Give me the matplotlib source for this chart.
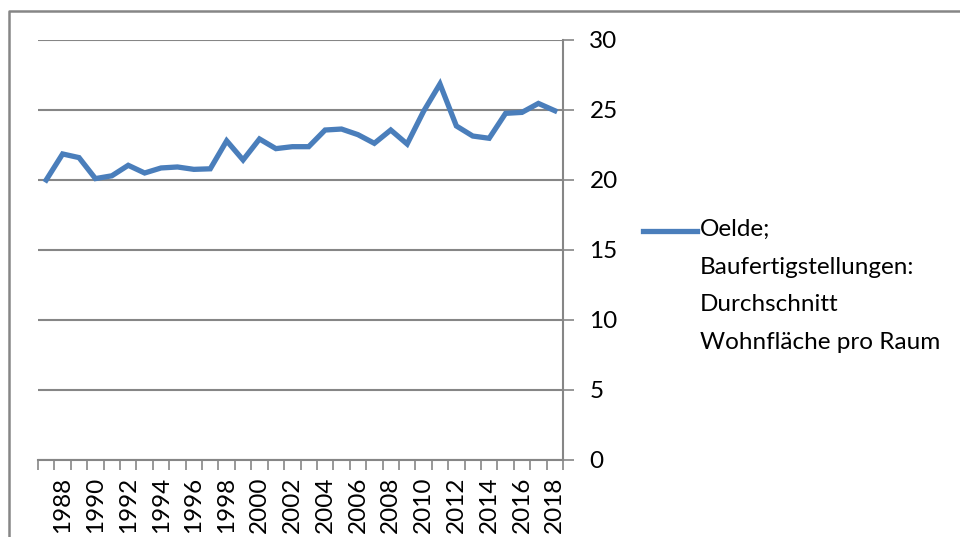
import matplotlib
matplotlib.use("Agg")
import matplotlib.pyplot as plt
from matplotlib.lines import Line2D

# Oelde; Baufertigstellungen: Durchschnitt Wohnfläche pro Raum
years = list(range(1987, 2019))
values = [20.0, 21.86, 21.6, 20.1, 20.3, 21.05, 20.5, 20.86, 20.93, 20.76,
          20.8, 22.8, 21.43, 22.93, 22.24, 22.38, 22.38, 23.57, 23.64, 23.24,
          22.62, 23.57, 22.57, 24.9, 26.86, 23.86, 23.14, 22.98, 24.76, 24.83,
          25.47, 24.95]
y_ticks = [0, 5, 10, 15, 20, 25, 30]
legend_label = "Oelde;\nBaufertigstellungen:\nDurchschnitt\nWohnfläche pro Raum"

blue = "#4A7EBB"
gray = "#868686"
W, H = 960, 537
fs = 17.5

plt.rcParams['font.family'] = ['Lato', 'DejaVu Sans']

fig = plt.figure(figsize=(9.6, 5.37), dpi=100)
ax = fig.add_axes([38 / W, 1 - 460 / H, (563 - 38) / W, (460 - 40) / H])

x = list(range(len(years)))
ax.plot(x, values, color=blue, linewidth=3.8, solid_joinstyle="miter")

ax.set_xlim(-0.5, len(years) - 0.5)
ax.set_ylim(0, 30)

# y axis on the right
ax.yaxis.tick_right()
ax.set_yticks(y_ticks)
ax.tick_params(axis="y", length=8, width=1.2, color=gray, pad=11,
               labelsize=fs, labelcolor="black")
for lbl in ax.get_yticklabels():
    lbl.set_horizontalalignment("left")
ax.grid(axis="y", color=gray, linewidth=1.5)
ax.set_axisbelow(True)

# category axis: labels every second year, ticks between categories
ax.set_xticks(x[1::2])
ax.set_xticklabels([str(y) for y in years[1::2]], rotation=90, fontsize=fs)
ax.set_xticks([i - 0.5 for i in range(len(years) + 1)], minor=True)
ax.tick_params(axis="x", which="major", length=0, pad=12)
ax.tick_params(axis="x", which="minor", length=7, width=1.2, color=gray)

for side in ["left", "top"]:
    ax.spines[side].set_visible(False)
for side in ["right", "bottom"]:
    ax.spines[side].set_color(gray)
    ax.spines[side].set_linewidth(1.5)

# legend, drawn Excel-style with the key beside the first line
fig.add_artist(Line2D([643 / W, 697 / W], [1 - 231 / H, 1 - 231 / H],
                      color=blue, linewidth=3.8, transform=fig.transFigure))
fig.text(700 / W, 1 - 219 / H, legend_label, fontsize=fs, va="top", ha="left",
         linespacing=1.98)

# chart area border (top and left visible)
fig.add_artist(Line2D([9 / W, 9 / W, 1.0], [0.0, 1 - 11 / H, 1 - 11 / H],
                      color=gray, linewidth=1.8, transform=fig.transFigure))

fig.savefig("out.png", dpi=100)
